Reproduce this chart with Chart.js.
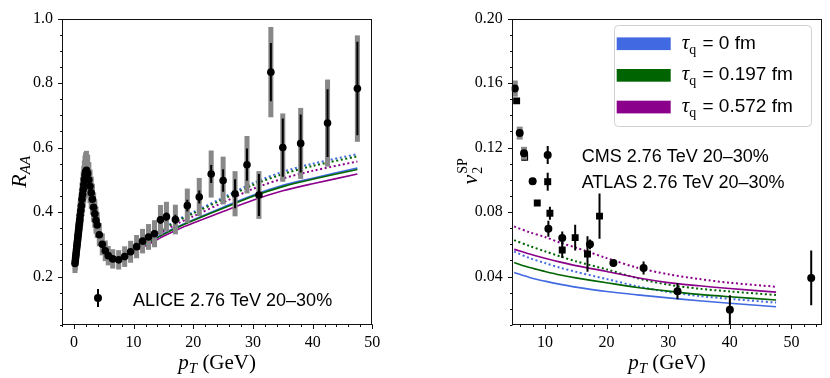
<!DOCTYPE html>
<html>
<head>
<meta charset="utf-8">
<script src="https://cdn.jsdelivr.net/npm/chart.js@4.4.1/dist/chart.umd.min.js"></script>
<style>
  html, body { margin: 0; padding: 0; background: #fff; }
  #wrap { position: relative; width: 830px; height: 378px; }
  canvas { position: absolute; top: 0; }
</style>
</head>
<body>
<div id="wrap">
  <canvas id="raa" width="415" height="378" style="left:0"></canvas>
  <canvas id="v2" width="415" height="378" style="left:415px"></canvas>
</div>
<script>
// ---- left panel: ALICE 2.76 TeV 20-30% R_AA ----
const alicePt   = [0.175, 0.225, 0.275, 0.325, 0.375, 0.425, 0.475, 0.525, 0.575, 0.625, 0.675, 0.725, 0.775, 0.825, 0.875, 0.925, 0.975,
                   1.05, 1.15, 1.25, 1.35, 1.45, 1.55, 1.65, 1.75, 1.85, 1.95,
                   2.1, 2.3, 2.5, 2.7, 2.9, 3.1, 3.3, 3.5, 3.7, 3.9,
                   4.25, 4.75, 5.25, 5.75, 6.5, 7.5, 8.5, 9.5, 10.5, 11.5, 12.5, 13.5, 14.5, 15.5,
                   17, 19, 21, 23, 25, 27, 29, 31, 33, 35, 38, 42.5, 47.5];
const aliceRaa  = [0.241, 0.249, 0.258, 0.266, 0.275, 0.283, 0.292, 0.30, 0.309, 0.317, 0.326, 0.334, 0.343, 0.351, 0.36, 0.368, 0.377,
                   0.39, 0.405, 0.42, 0.44, 0.455, 0.47, 0.485, 0.50, 0.515, 0.525,
                   0.53, 0.52, 0.50, 0.48, 0.46, 0.44, 0.415, 0.395, 0.375, 0.36,
                   0.33, 0.30, 0.28, 0.265, 0.255, 0.252, 0.262, 0.277, 0.293, 0.31, 0.323, 0.333, 0.376, 0.386,
                   0.377, 0.42, 0.447, 0.518, 0.498, 0.457, 0.547, 0.453, 0.834, 0.60, 0.613, 0.676, 0.783];
const aliceStat = [0.003, 0.003, 0.003, 0.003, 0.003, 0.003, 0.003, 0.003, 0.003, 0.003, 0.003, 0.003, 0.003, 0.003, 0.003, 0.003, 0.003,
                   0.004, 0.004, 0.004, 0.004, 0.004, 0.004, 0.004, 0.004, 0.004, 0.004,
                   0.004, 0.004, 0.004, 0.004, 0.004, 0.004, 0.004, 0.004, 0.004, 0.004,
                   0.004, 0.004, 0.004, 0.004, 0.005, 0.005, 0.006, 0.006, 0.007, 0.008, 0.009, 0.01, 0.012, 0.013,
                   0.015, 0.018, 0.02, 0.028, 0.035, 0.045, 0.05, 0.065, 0.09, 0.09, 0.09, 0.105, 0.145];
const aliceSyst = [0.03, 0.03, 0.03, 0.031, 0.032, 0.033, 0.034, 0.035, 0.036, 0.037, 0.038, 0.039, 0.04, 0.041, 0.042, 0.043, 0.044,
                   0.046, 0.048, 0.05, 0.052, 0.054, 0.056, 0.058, 0.06, 0.06, 0.06,
                   0.06, 0.058, 0.055, 0.052, 0.05, 0.048, 0.046, 0.044, 0.042, 0.04,
                   0.036, 0.034, 0.032, 0.03, 0.03, 0.03, 0.032, 0.034, 0.036, 0.038, 0.04, 0.042, 0.046, 0.046,
                   0.046, 0.053, 0.059, 0.073, 0.074, 0.07, 0.089, 0.074, 0.14, 0.106, 0.11, 0.135, 0.165];

// model curves for R_AA (solid and dotted, three formation times)
const raaModelPt      = [6, 8, 10, 12.5, 15, 17.5, 20, 25, 30, 35, 40, 47.5];
const raaTau0Dotted   = [0.255, 0.268, 0.29, 0.32, 0.35, 0.378, 0.40, 0.445, 0.49, 0.525, 0.55, 0.58];
const raaTau197Dotted = [0.255, 0.267, 0.288, 0.318, 0.347, 0.374, 0.396, 0.44, 0.484, 0.518, 0.543, 0.573];
const raaTau572Dotted = [0.255, 0.265, 0.285, 0.313, 0.34, 0.366, 0.387, 0.43, 0.472, 0.504, 0.528, 0.557];
const raaTau0Solid    = [0.25, 0.262, 0.28, 0.306, 0.333, 0.356, 0.376, 0.415, 0.452, 0.483, 0.505, 0.537];
const raaTau197Solid  = [0.25, 0.261, 0.279, 0.305, 0.331, 0.354, 0.374, 0.412, 0.449, 0.479, 0.502, 0.532];
const raaTau572Solid  = [0.25, 0.259, 0.276, 0.30, 0.325, 0.347, 0.366, 0.402, 0.437, 0.466, 0.488, 0.518];

// ---- right panel: v2{SP}, CMS and ATLAS 2.76 TeV 20-30% ----
const cmsPt    = [5.1, 5.9, 6.6, 8.0, 10.55, 12.8, 17.3, 21.1, 26.0, 31.5, 40.0, 53.2];
const cmsV2    = [0.1566, 0.129, 0.1165, 0.0992, 0.0697, 0.064, 0.060, 0.0484, 0.0453, 0.031, 0.0194, 0.0392];
const cmsStat  = [0.002, 0.002, 0.002, 0.002, 0.005, 0.004, 0.003, 0.002, 0.004, 0.005, 0.009, 0.017];
const cmsSyst  = [0.005, 0.004, 0.004, 0.002, 0, 0, 0, 0, 0, 0, 0, 0];
const atlasPt   = [5.4, 6.7, 8.75, 10.8, 12.8, 14.9, 16.9, 18.85];
const atlasV2   = [0.149, 0.114, 0.0856, 0.0793, 0.0565, 0.0642, 0.054, 0.0775];
const atlasStat = [0.001, 0.002, 0.001, 0.004, 0.005, 0.008, 0.011, 0.014];

const v2ModelPt      = [5, 7.5, 10, 12.5, 15, 20, 25, 30, 35, 40, 47.5];
const v2Tau0Solid    = [0.0426, 0.0395, 0.0372, 0.0352, 0.0335, 0.0308, 0.0287, 0.0268, 0.0250, 0.0235, 0.0213];
const v2Tau197Solid  = [0.0487, 0.0456, 0.0432, 0.041, 0.0392, 0.0362, 0.0333, 0.031, 0.0290, 0.0275, 0.0255];
const v2Tau572Solid  = [0.0569, 0.054, 0.0514, 0.049, 0.0468, 0.0432, 0.0393, 0.0363, 0.0343, 0.0326, 0.0304];
const v2Tau0Dotted   = [0.0555, 0.0515, 0.0484, 0.0455, 0.043, 0.0385, 0.034, 0.0305, 0.028, 0.0262, 0.0239];
const v2Tau197Dotted = [0.0626, 0.059, 0.0557, 0.0525, 0.0495, 0.0445, 0.039, 0.035, 0.0325, 0.0308, 0.0286];
const v2Tau572Dotted = [0.0711, 0.0675, 0.0646, 0.061, 0.058, 0.0515, 0.0455, 0.0415, 0.0385, 0.0362, 0.0337];

const legendLabels = ['0 fm', '0.197 fm', '0.572 fm'];
const tauColors = ['#4169e1', '#006400', '#8b008b'];

const SERIF = '"Liberation Serif", "DejaVu Serif", serif';
const SANS = '"Liberation Sans", Arial, sans-serif';

function pts(xs, ys) {
  return xs.map((x, i) => ({ x: x, y: ys[i] }));
}

function modelLine(xs, ys, color, dotted) {
  return {
    data: pts(xs, ys),
    showLine: true,
    pointRadius: 0,
    borderColor: color,
    borderWidth: dotted ? 2 : 1.6,
    borderDash: dotted ? [2, 2.6] : [],
    tension: 0.3,
  };
}

// systematic boxes + statistical bars, drawn just before the markers of the dataset
const errorBars = {
  id: 'errorBars',
  beforeDatasetDraw(chart, args) {
    const ds = chart.data.datasets[args.index];
    if (!ds.stat) return;
    const { ctx, chartArea: a } = chart;
    const xs = chart.scales.x, ys = chart.scales.y;
    ctx.save();
    ctx.beginPath();
    ctx.rect(a.left, a.top, a.right - a.left, a.bottom - a.top);
    ctx.clip();
    ds.data.forEach((p, i) => {
      const px = xs.getPixelForValue(p.x);
      const s = ds.syst ? ds.syst[i] : 0;
      if (s) {
        const top = ys.getPixelForValue(p.y + s), bot = ys.getPixelForValue(p.y - s);
        ctx.fillStyle = '#888';
        ctx.fillRect(px - ds.systWidth / 2, top, ds.systWidth, bot - top);
      }
    });
    ds.data.forEach((p, i) => {
      const px = xs.getPixelForValue(p.x);
      const e = ds.stat[i];
      ctx.strokeStyle = '#000';
      ctx.lineWidth = 2;
      ctx.beginPath();
      ctx.moveTo(px, ys.getPixelForValue(p.y + e));
      ctx.lineTo(px, ys.getPixelForValue(p.y - e));
      ctx.stroke();
    });
    ctx.restore();
  }
};

// matplotlib-like frame with outward major and minor ticks
const frameTicks = {
  id: 'frameTicks',
  afterDraw(chart, args, opts) {
    const { ctx, chartArea: a } = chart;
    const xs = chart.scales.x, ys = chart.scales.y;
    ctx.save();
    ctx.strokeStyle = '#111';
    ctx.lineWidth = 1;
    const L = Math.round(a.left) + 0.5, R = Math.round(a.right) - 0.5;
    const T = Math.round(a.top) + 0.5, B = Math.round(a.bottom) - 0.5;
    ctx.strokeRect(L, T, R - L, B - T);
    const minor = (scale, step) => {
      const out = [];
      for (let i = Math.ceil(scale.min / step - 1e-9); i * step <= scale.max + 1e-9; i++) out.push(i * step);
      return out;
    };
    ctx.beginPath();
    minor(xs, opts.xMinor).forEach(v => {
      const px = Math.round(xs.getPixelForValue(v)) + 0.5;
      ctx.moveTo(px, B); ctx.lineTo(px, B + 2.5);
    });
    xs.ticks.forEach(t => {
      const px = Math.round(xs.getPixelForValue(t.value)) + 0.5;
      ctx.moveTo(px, B); ctx.lineTo(px, B + 4.5);
    });
    minor(ys, opts.yMinor).forEach(v => {
      const py = Math.round(ys.getPixelForValue(v)) + 0.5;
      ctx.moveTo(L, py); ctx.lineTo(L - 2.5, py);
    });
    ys.ticks.forEach(t => {
      const py = Math.round(ys.getPixelForValue(t.value)) + 0.5;
      ctx.moveTo(L, py); ctx.lineTo(L - 4.5, py);
    });
    ctx.stroke();
    ctx.restore();
  }
};

// x title p_T (GeV), centred under the plot
function drawPtTitle(ctx, a) {
  const big = 'italic 21px ' + SERIF, sub = 'italic 15px ' + SERIF, rom = '21px ' + SERIF;
  ctx.font = big; const wp = ctx.measureText('p').width;
  ctx.font = sub; const wt = ctx.measureText('T').width;
  ctx.font = rom; const wg = ctx.measureText(' (GeV)').width;
  let x = (a.left + a.right) / 2 - (wp + wt + wg) / 2;
  const base = 369;
  ctx.fillStyle = '#000';
  ctx.textBaseline = 'alphabetic';
  ctx.textAlign = 'left';
  ctx.font = big; ctx.fillText('p', x, base); x += wp;
  ctx.font = sub; ctx.fillText('T', x, base + 4); x += wt;
  ctx.font = rom; ctx.fillText(' (GeV)', x, base);
}

function drawErrMarker(ctx, x, y, style) {
  ctx.strokeStyle = '#000';
  ctx.lineWidth = 2;
  ctx.beginPath(); ctx.moveTo(x, y - 9); ctx.lineTo(x, y + 9); ctx.stroke();
  ctx.fillStyle = '#000';
  ctx.beginPath();
  if (style === 'rect') ctx.rect(x - 3.5, y - 3.5, 7, 7);
  else ctx.arc(x, y, 4, 0, Math.PI * 2);
  ctx.fill();
}

const raaDecor = {
  id: 'raaDecor',
  afterDraw(chart) {
    const { ctx, chartArea: a } = chart;
    ctx.save();
    drawPtTitle(ctx, a);
    // y title R_AA
    ctx.translate(19, (a.top + a.bottom) / 2);
    ctx.rotate(-Math.PI / 2);
    ctx.font = 'italic 22px ' + SERIF; const wr = ctx.measureText('R').width;
    ctx.font = 'italic 15px ' + SERIF; const wa = ctx.measureText('AA').width;
    let x = -(wr + wa) / 2;
    ctx.fillStyle = '#000';
    ctx.font = 'italic 22px ' + SERIF; ctx.fillText('R', x, 7);
    ctx.font = 'italic 15px ' + SERIF; ctx.fillText('AA', x + wr, 11);
    ctx.restore();
    // data legend
    ctx.save();
    drawErrMarker(ctx, 98, 298, 'circle');
    ctx.font = '18px ' + SANS;
    ctx.fillStyle = '#000';
    ctx.fillText('ALICE 2.76 TeV 20–30%', 133, 306);
    ctx.restore();
  }
};

const v2Decor = {
  id: 'v2Decor',
  afterDraw(chart) {
    const { ctx, chartArea: a } = chart;
    ctx.save();
    drawPtTitle(ctx, a);
    // y title v_2^SP
    ctx.translate(55, (a.top + a.bottom) / 2);
    ctx.rotate(-Math.PI / 2);
    ctx.font = 'italic 22px ' + SERIF; const wv = ctx.measureText('v').width;
    ctx.font = '14px ' + SERIF; const ws = ctx.measureText('SP').width;
    let x = -(wv + ws) / 2;
    ctx.fillStyle = '#000';
    ctx.font = 'italic 22px ' + SERIF; ctx.fillText('v', x, 7);
    ctx.font = '14px ' + SERIF;
    ctx.fillText('2', x + wv + 1, 12);
    ctx.fillText('SP', x + wv + 1, -3);
    ctx.restore();

    // marker legend for the data
    ctx.save();
    drawErrMarker(ctx, 132.7, 155, 'circle');
    drawErrMarker(ctx, 132.7, 181.7, 'rect');
    ctx.font = '18px ' + SANS;
    ctx.fillStyle = '#000';
    ctx.fillText('CMS 2.76 TeV 20–30%', 166.7, 161.7);
    ctx.fillText('ATLAS 2.76 TeV 20–30%', 166.7, 188.3);

    // colour legend box
    ctx.beginPath();
    ctx.roundRect(199.5, 25.5, 197, 101, 4);
    ctx.fillStyle = 'rgba(255,255,255,0.8)';
    ctx.fill();
    ctx.strokeStyle = '#d0d0d0';
    ctx.lineWidth = 1;
    ctx.stroke();
    const rows = [43.7, 75.3, 107];
    legendLabels.forEach((lab, i) => {
      const cy = rows[i];
      ctx.fillStyle = tauColors[i];
      ctx.fillRect(201.7, cy - 6.3, 54, 12.7);
      ctx.fillStyle = '#000';
      let x = 266.7;
      const base = cy + 5;
      ctx.font = 'italic 21px ' + SERIF; ctx.fillText('τ', x, base); x += ctx.measureText('τ').width;
      ctx.font = '14px ' + SERIF; ctx.fillText('q', x, base + 5); x += ctx.measureText('q').width + 1;
      ctx.font = '19px ' + SANS; ctx.fillText(' = ' + lab, x, base);
    });
    ctx.restore();
  }
};

const tickFont = { family: SERIF, size: 16 };

new Chart(document.getElementById('raa'), {
  type: 'scatter',
  data: {
    datasets: [
      { data: pts(alicePt, aliceRaa), stat: aliceStat, syst: aliceSyst, systWidth: 5,
        pointRadius: 3.8, pointStyle: 'circle', backgroundColor: '#000', borderWidth: 0 },
      modelLine(raaModelPt, raaTau572Solid, tauColors[2], false),
      modelLine(raaModelPt, raaTau197Solid, tauColors[1], false),
      modelLine(raaModelPt, raaTau0Solid, tauColors[0], false),
      modelLine(raaModelPt, raaTau572Dotted, tauColors[2], true),
      modelLine(raaModelPt, raaTau197Dotted, tauColors[1], true),
      modelLine(raaModelPt, raaTau0Dotted, tauColors[0], true),
    ]
  },
  options: {
    responsive: false,
    devicePixelRatio: 1,
    animation: false,
    layout: { padding: { left: 0, right: 42.7, top: 15, bottom: 0 } },
    plugins: { legend: { display: false }, tooltip: { enabled: false }, frameTicks: { xMinor: 2, yMinor: 0.05 } },
    scales: {
      x: {
        type: 'linear', min: -2, max: 50,
        grid: { display: false, drawTicks: false }, border: { display: false },
        ticks: { stepSize: 10, includeBounds: false, font: tickFont, color: '#000', padding: 8, maxRotation: 0 },
        afterFit(s) { s.height = 53; }
      },
      y: {
        type: 'linear', min: 0.05, max: 1.0,
        grid: { display: false, drawTicks: false }, border: { display: false },
        ticks: { stepSize: 0.2, includeBounds: false, font: tickFont, color: '#000', padding: 9,
          callback: v => v.toFixed(1) },
        afterFit(s) { s.width = 62; }
      }
    }
  },
  plugins: [errorBars, frameTicks, raaDecor]
});

new Chart(document.getElementById('v2'), {
  type: 'scatter',
  data: {
    datasets: [
      { data: pts(cmsPt, cmsV2), stat: cmsStat, syst: cmsSyst, systWidth: 6,
        pointRadius: 4, pointStyle: 'circle', backgroundColor: '#000', borderWidth: 0 },
      { data: pts(atlasPt, atlasV2), stat: atlasStat, systWidth: 6,
        pointRadius: 4.9, pointStyle: 'rect', backgroundColor: '#000', borderWidth: 0 },
      modelLine(v2ModelPt, v2Tau572Dotted, tauColors[2], true),
      modelLine(v2ModelPt, v2Tau572Solid, tauColors[2], false),
      modelLine(v2ModelPt, v2Tau197Dotted, tauColors[1], true),
      modelLine(v2ModelPt, v2Tau197Solid, tauColors[1], false),
      modelLine(v2ModelPt, v2Tau0Dotted, tauColors[0], true),
      modelLine(v2ModelPt, v2Tau0Solid, tauColors[0], false),
    ]
  },
  options: {
    responsive: false,
    devicePixelRatio: 1,
    animation: false,
    layout: { padding: { left: 0, right: 7.7, top: 15, bottom: 0 } },
    plugins: { legend: { display: false }, tooltip: { enabled: false }, frameTicks: { xMinor: 2, yMinor: 0.01 } },
    scales: {
      x: {
        type: 'linear', min: 4.6, max: 55,
        grid: { display: false, drawTicks: false }, border: { display: false },
        ticks: { stepSize: 10, includeBounds: false, font: tickFont, color: '#000', padding: 8, maxRotation: 0 },
        afterFit(s) { s.height = 53; }
      },
      y: {
        type: 'linear', min: 0.01, max: 0.20,
        grid: { display: false, drawTicks: false }, border: { display: false },
        ticks: { stepSize: 0.04, includeBounds: false, font: tickFont, color: '#000', padding: 9,
          callback: v => v.toFixed(2) },
        afterFit(s) { s.width = 96.7; }
      }
    }
  },
  plugins: [errorBars, frameTicks, v2Decor]
});
</script>
</body>
</html>
